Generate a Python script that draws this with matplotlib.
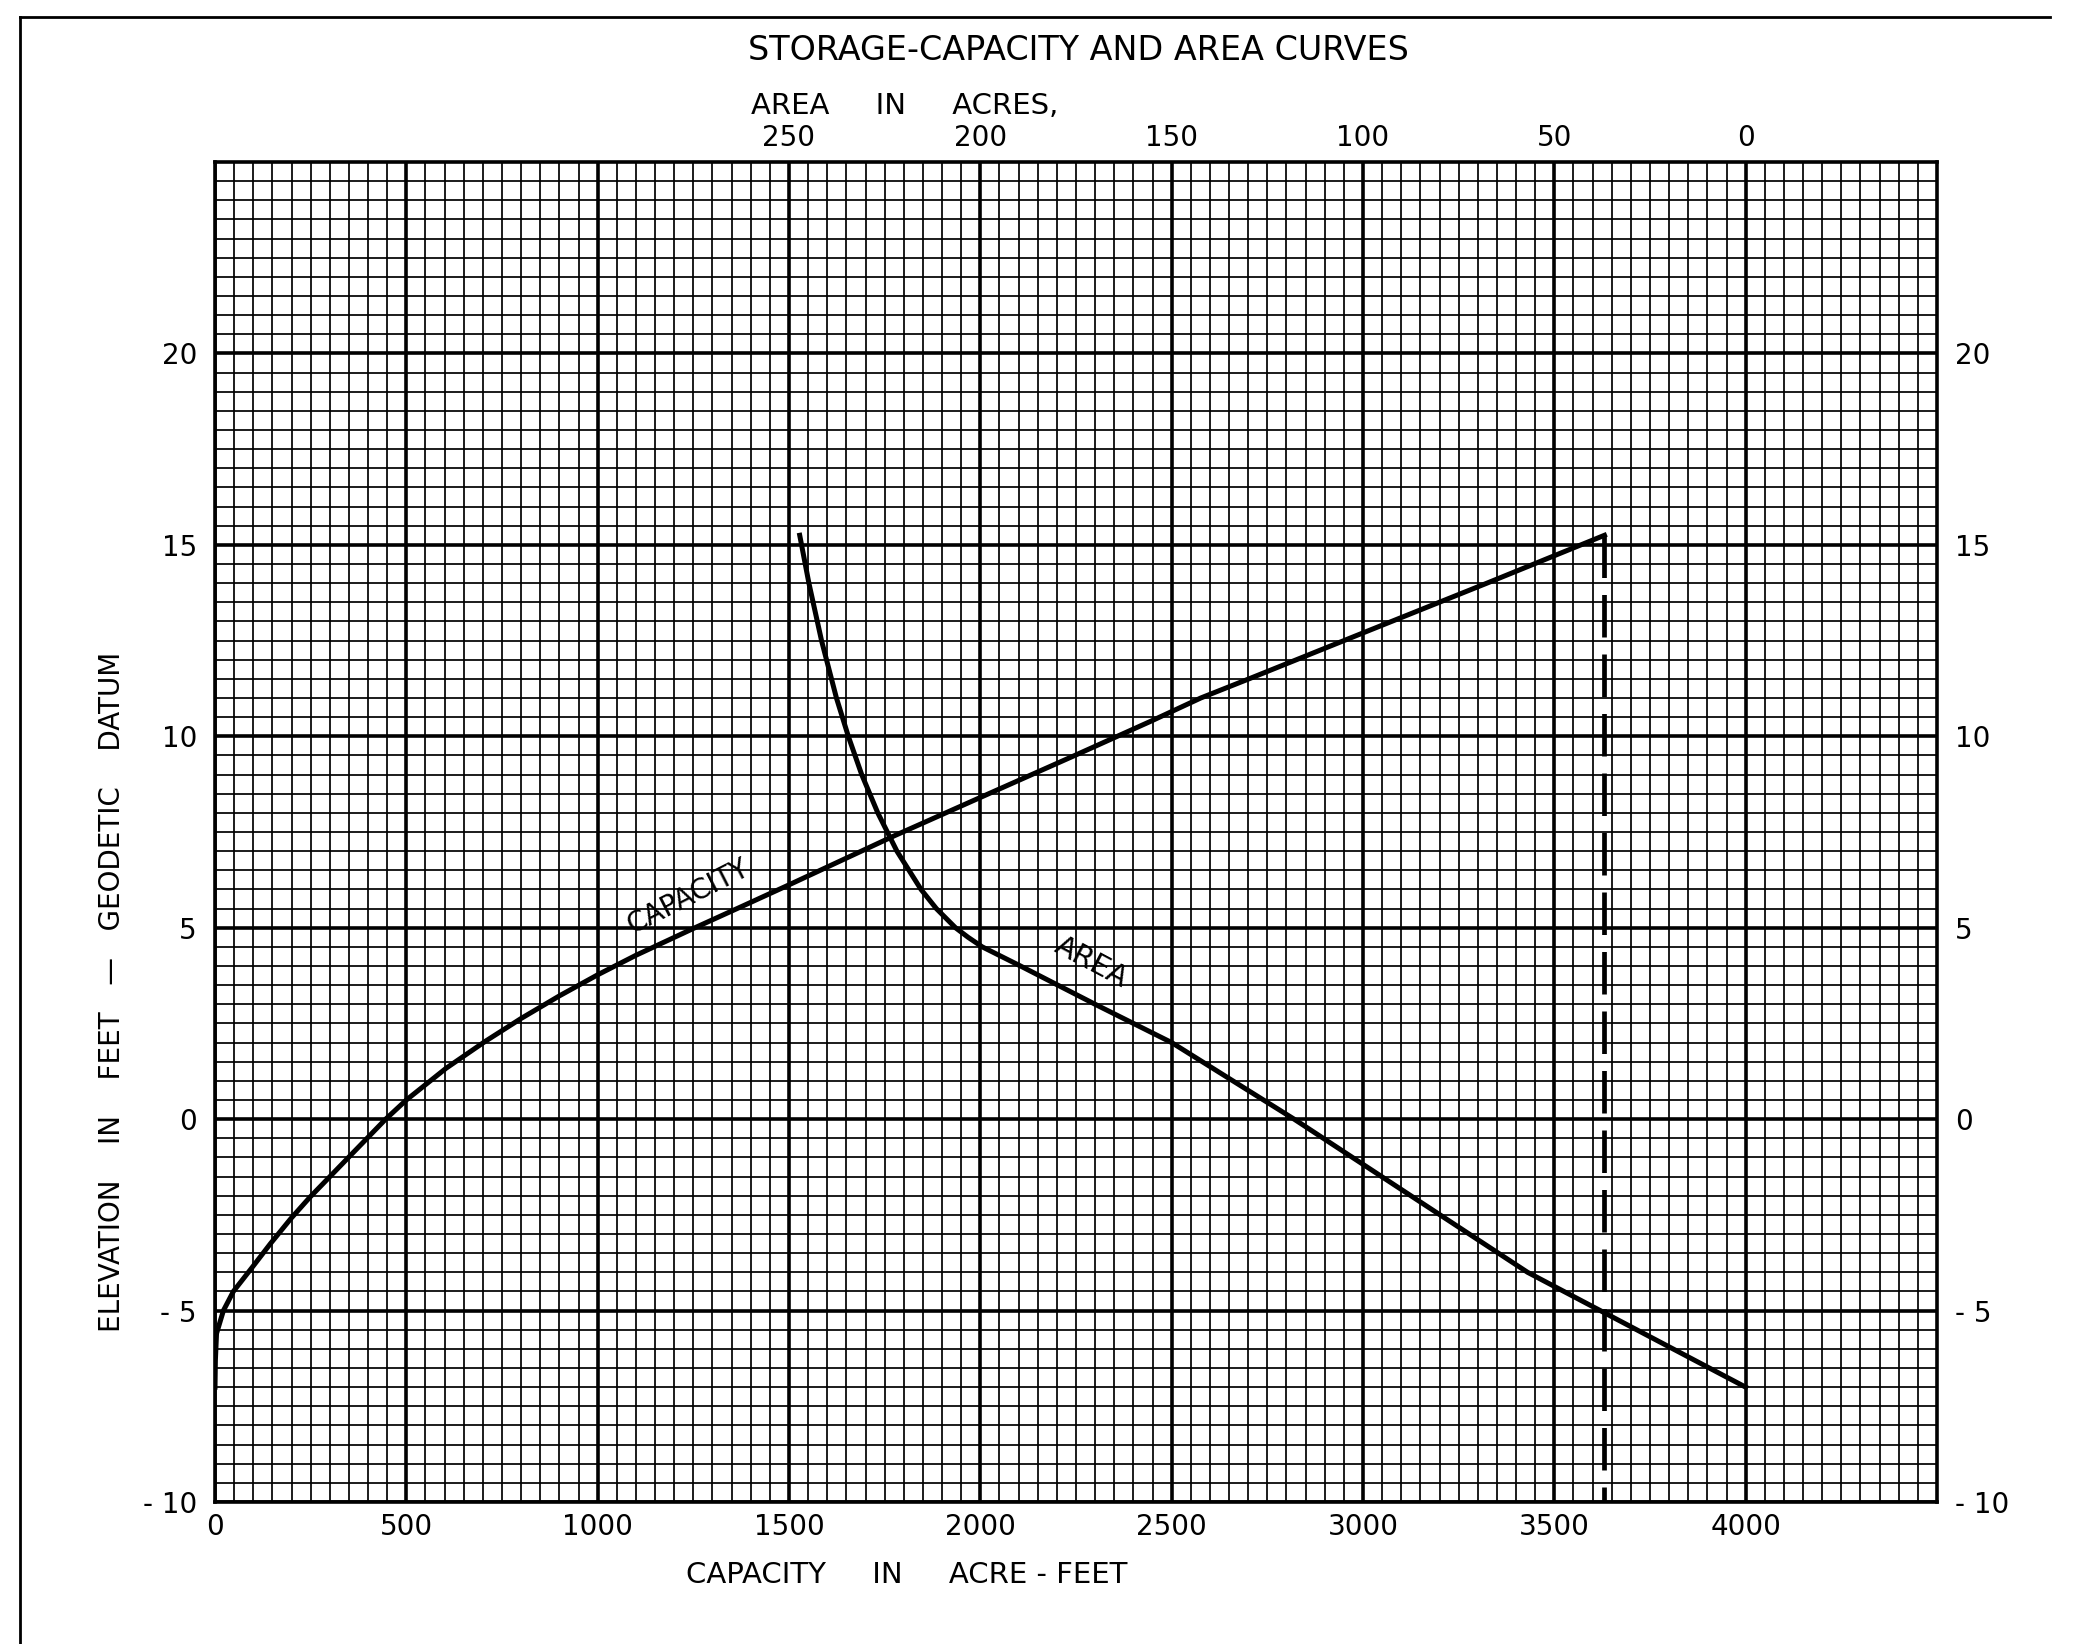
import numpy as np
import matplotlib.pyplot as plt
from matplotlib.lines import Line2D

# capacity curve: elevation (ft) vs capacity (acre-feet)
cap_elev = [-7.0, -6.3, -5.6, -5.0, -4.5, -3.9, -3.25, -2.6, -2.05, -1.05, 0.0, 0.5,
            1.33, 2.03, 2.63, 3.22, 3.77, 4.28, 4.98, 5.58, 6.12, 7.4, 8.5, 9.5,
            10.4, 11.0, 11.5, 12.7, 14.0, 15.25]
capacity = [0, 1, 4, 22, 48, 95, 145, 198, 247, 344, 446, 500,
            604, 706, 800, 900, 1000, 1100, 1250, 1382, 1500, 1775, 2022, 2247,
            2447, 2576, 2702, 3000, 3324, 3631]

# area curve: elevation (ft) vs area (acres)
area_elev = [15.25, 14.0, 12.5, 11.0, 10.0, 9.0, 8.0, 7.0, 6.0, 5.5, 5.0, 4.75,
             4.5, 4.0, 3.0, 2.0, 0.0, -2.0, -4.0, -5.0, -6.0, -7.0]
area = [247.2, 244.8, 241.5, 237.6, 234.5, 231.0, 226.8, 221.8, 215.5, 211.5, 206.5, 203.2,
        199.5, 189.5, 170.0, 150.0, 118.0, 87.5, 57.0, 38.0, 19.0, 0.0]

# full pool marker
pool_capacity = 3631
pool_elev = 15.25

cap_ticks = [0, 500, 1000, 1500, 2000, 2500, 3000, 3500, 4000]
elev_ticks = [-10, -5, 0, 5, 10, 15, 20]
elev_labels = ['- 10', '- 5', '0', '5', '10', '15', '20']
area_ticks = [250, 200, 150, 100, 50, 0]

W, H = 2087, 1644
fig = plt.figure(figsize=(W / 100, H / 100), dpi=100)
ax = fig.add_axes([215 / W, 1 - 1502 / H, (1937 - 215) / W, (1502 - 162) / H])

ax.set_xlim(0, 4500)
ax.set_ylim(-10, 25)
ax.set_xticks(cap_ticks)
ax.set_xticks(np.arange(0, 4501, 50), minor=True)
ax.set_yticks(elev_ticks)
ax.set_yticklabels(elev_labels)
ax.set_yticks(np.arange(-10, 25.01, 0.5), minor=True)
ax.grid(which='major', color='black', lw=2.6)
ax.grid(which='minor', color='black', lw=1.25)
ax.tick_params(which='both', length=0, labelsize=20)
ax.tick_params(axis='y', labelright=True, pad=13)
ax.tick_params(axis='x', pad=8)
for s in ax.spines.values():
    s.set_linewidth(2.6)

ax.plot(capacity, cap_elev, color='black', lw=3.6, solid_joinstyle='round')
ax.plot([pool_capacity, pool_capacity], [pool_elev, -10], color='black', lw=3.4,
        dashes=(9, 3.6))
ax.text(1236, 5.8, 'CAPACITY', rotation=27, ha='center', va='center', fontsize=20)

# area scale on top, running the other way
ax2 = ax.twiny()
ax2.set_xlim(400, -50)
ax2.set_xticks(area_ticks)
ax2.tick_params(length=0, labelsize=20, pad=7)
for s in ax2.spines.values():
    s.set_visible(False)
ax2.plot(area, area_elev, color='black', lw=3.6, solid_joinstyle='round')
ax2.text(171, 4.1, 'AREA', rotation=-28, ha='center', va='center', fontsize=21)

fig.text(1078 / W, 1 - 51 / H, 'STORAGE-CAPACITY AND AREA CURVES',
         ha='center', va='center', fontsize=24)
fig.text(905 / W, 1 - 106 / H, 'AREA     IN     ACRES,', ha='center', va='center',
         fontsize=21)
fig.text(907 / W, 1 - 1575 / H, 'CAPACITY     IN     ACRE - FEET', ha='center',
         va='center', fontsize=21)
fig.text(112 / W, 1 - 992 / H, 'ELEVATION    IN    FEET   \u2014   GEODETIC    DATUM',
         ha='center', va='center', rotation=90, fontsize=20)

# drawing sheet border
fig.add_artist(Line2D([20 / W, 20 / W], [0, 1 - 17 / H], color='black', lw=2))
fig.add_artist(Line2D([20 / W, 2050 / W], [1 - 17 / H, 1 - 17 / H], color='black', lw=2))

fig.savefig('out.png', dpi=100)
